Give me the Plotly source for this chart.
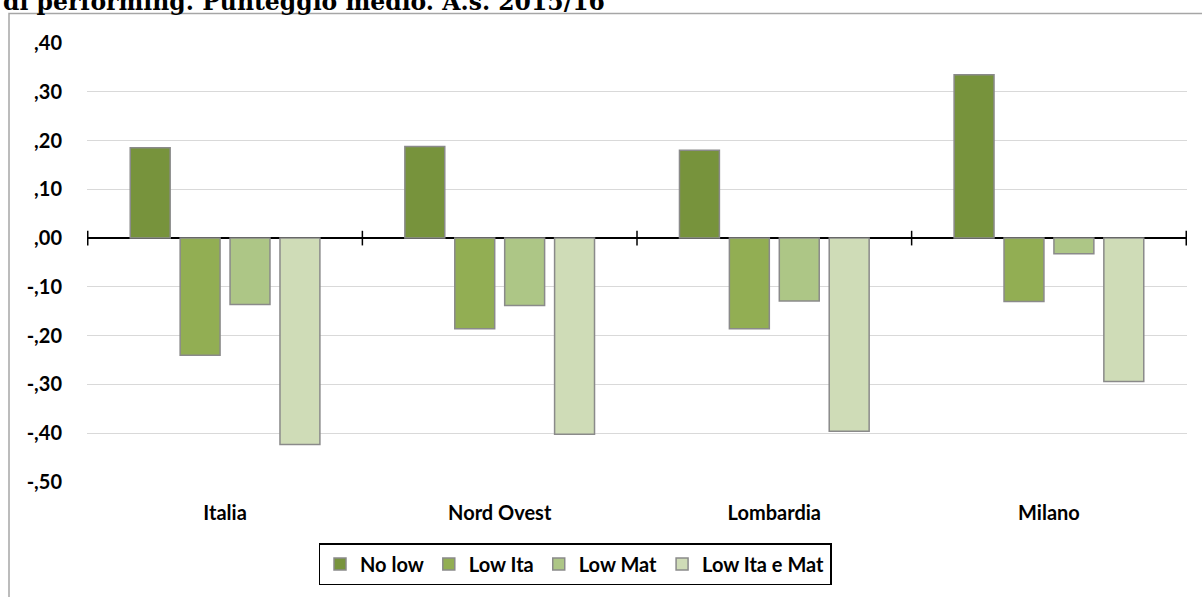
import plotly.graph_objects as go

categories = ["Italia", "Nord Ovest", "Lombardia", "Milano"]
no_low = [0.185, 0.188, 0.180, 0.335]
low_ita = [-0.240, -0.186, -0.186, -0.130]
low_mat = [-0.136, -0.138, -0.129, -0.032]
low_ita_mat = [-0.423, -0.402, -0.396, -0.294]

series = [
    ("No low", no_low, "#77933C"),
    ("Low Ita", low_ita, "#92AE53"),
    ("Low Mat", low_mat, "#ADC686"),
    ("Low Ita e Mat", low_ita_mat, "#CFDCB7"),
]

tick_vals = [0.4, 0.3, 0.2, 0.1, 0.0, -0.1, -0.2, -0.3, -0.4, -0.5]
tick_text = [",40", ",30", ",20", ",10", ",00", "-,10", "-,20", "-,30", "-,40", "-,50"]

FONT = "Lato"

fig = go.Figure()
for name, vals, color in series:
    fig.add_trace(go.Bar(
        x=categories, y=vals, name=name,
        marker=dict(color=color, line=dict(color="#8a8a8a", width=1.5)),
    ))

W, H = 1202, 597
L, R, T, B = 87, 15, 43, 115
pw = W - L - R
ph = H - T - B

def px_to_paper_x(px):
    return (px - L) / pw

def px_to_paper_y(py):
    return (H - B - py) / ph

fig.update_layout(
    width=W, height=H,
    margin=dict(l=L, r=R, t=T, b=B, pad=0),
    paper_bgcolor="white", plot_bgcolor="white",
    barmode="group", bargap=0.273, bargroupgap=0.2,
    font=dict(family=FONT, size=19, color="black"),
    showlegend=True,
    legend=dict(
        orientation="h", x=px_to_paper_x(575), xanchor="center",
        y=px_to_paper_y(543), yanchor="top",
        bordercolor="black", borderwidth=1.5,
        font=dict(family=FONT, size=20, color="black", weight="bold"),
        traceorder="normal",
    ),
    xaxis=dict(
        type="category", showgrid=False, showline=False, ticks="",
        tickfont=dict(family=FONT, size=20, color="black", weight="bold"),
        ticklabelstandoff=17,
    ),
    yaxis=dict(
        range=[-0.5, 0.4], tickvals=tick_vals, ticktext=tick_text,
        showgrid=True, gridcolor="#d9d9d9", gridwidth=1.3,
        zeroline=True, zerolinecolor="black", zerolinewidth=2,
        showline=False, ticks="",
        tickfont=dict(family=FONT, size=20, color="black", weight="bold"),
        ticklabelstandoff=24,
    ),
)

# cross tick marks on the zero line at category boundaries
for i in range(len(categories) + 1):
    fig.add_shape(type="line", xref="x", yref="y",
                  x0=i - 0.5, x1=i - 0.5, y0=-0.015, y1=0.015,
                  line=dict(color="black", width=1.5))

# chart frame (extends past right and bottom edge)
fig.add_shape(type="rect", xref="paper", yref="paper",
              x0=px_to_paper_x(9), x1=px_to_paper_x(1220),
              y0=px_to_paper_y(620), y1=px_to_paper_y(13.5),
              line=dict(color="#a6a6a6", width=1.5), fillcolor="rgba(0,0,0,0)",
              layer="below")

# partially visible title above the frame
fig.add_annotation(
    text="di performing. Punteggio medio. A.s. 2015/16",
    xref="paper", yref="paper", x=px_to_paper_x(1), xanchor="left",
    y=px_to_paper_y(18), yanchor="bottom", showarrow=False,
    font=dict(family="DejaVu Serif", size=23.5, color="black", weight="bold"),
)

fig.write_html("out.html", config={"displayModeBar": False},
               post_script="document.body.style.margin='0px';")
